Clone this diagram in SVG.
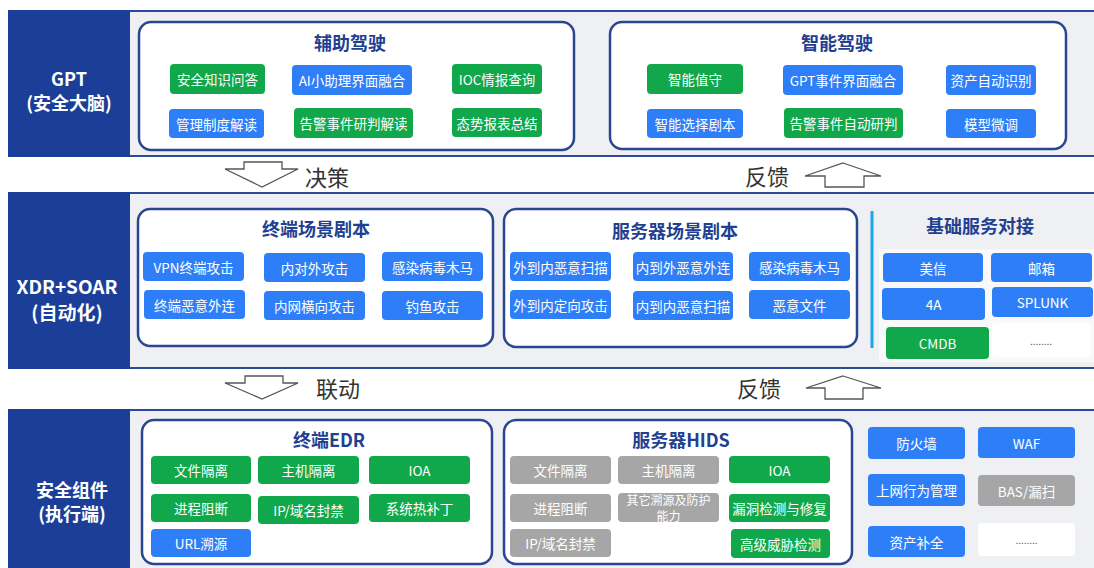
<svg xmlns="http://www.w3.org/2000/svg" width="1094" height="568" viewBox="0 0 1094 568">
<style>
text{font-family:"Noto Sans CJK SC","Noto Sans",sans-serif}
.band{fill:#eff0f3}
.bl{stroke:#2d4a9a;stroke-width:2}
.side{fill:#1b3f98}
.st{font-weight:700;fill:#fff;text-anchor:middle;dominant-baseline:central}
.panel{fill:#fff;stroke:#2b4690;stroke-width:2.5}
.pt{font-weight:700;font-size:18px;fill:#233f8f;text-anchor:middle;dominant-baseline:central}
.g{fill:#10a84b}
.b{fill:#2e7ff7}
.gr{fill:#a6a6a6}
.w{fill:#fff}
.bt{font-size:13.5px;fill:#fff;text-anchor:middle;dominant-baseline:central}
.sm{font-size:12px}
.dt{font-size:10px;fill:#555;text-anchor:middle;dominant-baseline:central}
.arr{fill:#fff;stroke:#555;stroke-width:1.3;stroke-linejoin:miter}
.at{font-size:22px;fill:#333;dominant-baseline:central}
</style>

<!-- bands -->
<g id="band-gpt">
<rect class="band" x="130" y="11" width="964" height="145"/>
<line class="bl" x1="130" y1="11" x2="1094" y2="11"/>
<line class="bl" x1="130" y1="156" x2="1094" y2="156"/>
<rect class="side" x="8" y="10" width="122" height="147"/>
<text class="st" x="69" y="78" font-size="18">GPT</text>
<text class="st" x="69" y="102" font-size="18">(安全大脑)</text>
</g>
<g id="band-xdr">
<rect class="band" x="130" y="193" width="964" height="175"/>
<line class="bl" x1="130" y1="193" x2="1094" y2="193"/>
<line class="bl" x1="130" y1="368" x2="1094" y2="368"/>
<rect class="side" x="8" y="192" width="122" height="177"/>
<text class="st" x="67" y="285" font-size="19">XDR+SOAR</text>
<text class="st" x="67" y="311" font-size="19">(自动化)</text>
</g>
<g id="band-comp">
<rect class="band" x="130" y="410" width="964" height="158"/>
<line class="bl" x1="130" y1="410" x2="1094" y2="410"/>
<rect class="side" x="8" y="409" width="122" height="159"/>
<text class="st" x="72" y="489" font-size="18">安全组件</text>
<text class="st" x="72" y="513" font-size="18">(执行端)</text>
</g>

<!-- GPT panels -->
<g id="p-fuzhu">
<rect class="panel" x="139" y="22" width="435" height="128" rx="12"/>
<text class="pt" x="350" y="42">辅助驾驶</text>
</g>
<g id="n-aqzs"><rect class="g" x="170" y="64" width="95" height="30" rx="4"/><text class="bt" x="217.5" y="79">安全知识问答</text></g>
<g id="n-aixzl"><rect class="b" x="292" y="65" width="120" height="30" rx="4"/><text class="bt" x="352" y="80">AI小助理界面融合</text></g>
<g id="n-ioc"><rect class="g" x="452" y="64" width="90" height="30" rx="4"/><text class="bt" x="497" y="79">IOC情报查询</text></g>
<g id="n-glzd"><rect class="b" x="169" y="109" width="95" height="29" rx="4"/><text class="bt" x="216.5" y="123.5">管理制度解读</text></g>
<g id="n-gjyp"><rect class="g" x="294" y="108" width="119" height="30" rx="4"/><text class="bt" x="353.5" y="123">告警事件研判解读</text></g>
<g id="n-tsbb"><rect class="g" x="452" y="108" width="90" height="29" rx="4"/><text class="bt" x="497" y="122.5">态势报表总结</text></g>

<g id="p-zhineng">
<rect class="panel" x="610" y="22" width="456" height="127" rx="12"/>
<text class="pt" x="837" y="42">智能驾驶</text>
</g>
<g id="n-znzs"><rect class="g" x="647" y="64" width="96" height="30" rx="4"/><text class="bt" x="695" y="79">智能值守</text></g>
<g id="n-gptsj"><rect class="b" x="783" y="65" width="120" height="30" rx="4"/><text class="bt" x="843" y="80">GPT事件界面融合</text></g>
<g id="n-zcsb"><rect class="b" x="946" y="65" width="90" height="30" rx="4"/><text class="bt" x="991" y="80">资产自动识别</text></g>
<g id="n-znxz"><rect class="b" x="647" y="109" width="96" height="29" rx="4"/><text class="bt" x="695" y="123.5">智能选择剧本</text></g>
<g id="n-gjzd"><rect class="g" x="784" y="108" width="119" height="30" rx="4"/><text class="bt" x="843.5" y="123">告警事件自动研判</text></g>
<g id="n-mxwt"><rect class="b" x="946" y="109" width="90" height="29" rx="4"/><text class="bt" x="991" y="123.5">模型微调</text></g>

<!-- XDR panels -->
<g id="p-zdcj">
<rect class="panel" x="138" y="209" width="355" height="137" rx="12"/>
<text class="pt" x="316" y="228">终端场景剧本</text>
</g>
<g id="n-vpn"><rect class="b" x="143" y="252" width="101" height="29" rx="4"/><text class="bt" x="193.5" y="266.5">VPN终端攻击</text></g>
<g id="n-ndw"><rect class="b" x="264" y="253" width="101" height="29" rx="4"/><text class="bt" x="314.5" y="267.5">内对外攻击</text></g>
<g id="n-grbd1"><rect class="b" x="382" y="252" width="101" height="29" rx="4"/><text class="bt" x="432.5" y="266.5">感染病毒木马</text></g>
<g id="n-zdey"><rect class="b" x="144" y="290" width="101" height="29" rx="4"/><text class="bt" x="194.5" y="304.5">终端恶意外连</text></g>
<g id="n-nwhx"><rect class="b" x="264" y="291" width="101" height="29" rx="4"/><text class="bt" x="314.5" y="305.5">内网横向攻击</text></g>
<g id="n-dy"><rect class="b" x="382" y="291" width="101" height="29" rx="4"/><text class="bt" x="432.5" y="305.5">钓鱼攻击</text></g>

<g id="p-fwqcj">
<rect class="panel" x="504" y="209" width="353" height="138" rx="12"/>
<text class="pt" x="675" y="230">服务器场景剧本</text>
</g>
<g id="n-wdnsm"><rect class="b" x="510" y="252" width="101" height="29" rx="4"/><text class="bt" x="560.5" y="266.5">外到内恶意扫描</text></g>
<g id="n-ndwwl"><rect class="b" x="633" y="252" width="100" height="29" rx="4"/><text class="bt" x="683" y="266.5">内到外恶意外连</text></g>
<g id="n-grbd2"><rect class="b" x="749" y="252" width="101" height="29" rx="4"/><text class="bt" x="799.5" y="266.5">感染病毒木马</text></g>
<g id="n-wdndx"><rect class="b" x="510" y="290" width="101" height="29" rx="4"/><text class="bt" x="560.5" y="304.5">外到内定向攻击</text></g>
<g id="n-ndnsm"><rect class="b" x="633" y="291" width="100" height="29" rx="4"/><text class="bt" x="683" y="305.5">内到内恶意扫描</text></g>
<g id="n-eywj"><rect class="b" x="749" y="290" width="101" height="29" rx="4"/><text class="bt" x="799.5" y="304.5">恶意文件</text></g>

<g id="p-jcfw">
<line x1="872" y1="211" x2="872" y2="348" stroke="#1aa9e3" stroke-width="3"/>
<text class="pt" x="980" y="225">基础服务对接</text>
<rect x="879" y="249" width="215" height="113" fill="#fff" opacity="0.6"/>
</g>
<g id="n-mx"><rect class="b" x="883" y="253" width="100" height="29" rx="4"/><text class="bt" x="933" y="267.5">美信</text></g>
<g id="n-yx"><rect class="b" x="991" y="253" width="101" height="29" rx="4"/><text class="bt" x="1041.5" y="267.5">邮箱</text></g>
<g id="n-4a"><rect class="b" x="882" y="288" width="103" height="32" rx="4"/><text class="bt" x="933.5" y="304">4A</text></g>
<g id="n-splunk"><rect class="b" x="992" y="287" width="101" height="30" rx="4"/><text class="bt" x="1042.5" y="302">SPLUNK</text></g>
<g id="n-cmdb"><rect class="g" x="886" y="327" width="103" height="32" rx="4"/><text class="bt" x="937.5" y="343">CMDB</text></g>
<g id="n-more1"><rect class="w" x="992" y="323" width="98" height="34" rx="4"/><text class="dt" x="1041" y="340">........</text></g>

<!-- Component panels -->
<g id="p-edr">
<rect class="panel" x="142" y="420" width="350" height="144" rx="12"/>
<text class="pt" x="329" y="439">终端EDR</text>
</g>
<g id="n-wjgl1"><rect class="g" x="151" y="456" width="100" height="28" rx="4"/><text class="bt" x="201" y="470">文件隔离</text></g>
<g id="n-zjgl1"><rect class="g" x="258" y="456" width="101" height="28" rx="4"/><text class="bt" x="308.5" y="470">主机隔离</text></g>
<g id="n-ioa1"><rect class="g" x="369" y="456" width="101" height="28" rx="4"/><text class="bt" x="419.5" y="470">IOA</text></g>
<g id="n-jczd1"><rect class="g" x="151" y="494" width="100" height="28" rx="4"/><text class="bt" x="201" y="508">进程阻断</text></g>
<g id="n-ipfj1"><rect class="g" x="258" y="496" width="101" height="28" rx="4"/><text class="bt" x="308.5" y="510">IP/域名封禁</text></g>
<g id="n-xtrbd"><rect class="g" x="369" y="494" width="101" height="28" rx="4"/><text class="bt" x="419.5" y="508">系统热补丁</text></g>
<g id="n-url"><rect class="b" x="151" y="529" width="100" height="28" rx="4"/><text class="bt" x="201" y="543">URL溯源</text></g>

<g id="p-hids">
<rect class="panel" x="504" y="420" width="348" height="144" rx="12"/>
<text class="pt" x="681" y="439">服务器HIDS</text>
</g>
<g id="n-wjgl2"><rect class="gr" x="510" y="456" width="101" height="28" rx="4"/><text class="bt" x="560.5" y="470">文件隔离</text></g>
<g id="n-zjgl2"><rect class="gr" x="618" y="456" width="101" height="28" rx="4"/><text class="bt" x="668.5" y="470">主机隔离</text></g>
<g id="n-ioa2"><rect class="g" x="729" y="456" width="101" height="27" rx="4"/><text class="bt" x="779.5" y="469.5">IOA</text></g>
<g id="n-jczd2"><rect class="gr" x="510" y="494" width="101" height="28" rx="4"/><text class="bt" x="560.5" y="508">进程阻断</text></g>
<g id="n-qtsy"><rect class="gr" x="618" y="493" width="101" height="29" rx="4"/><text class="bt sm" x="668.5" y="499.5">其它溯源及防护</text><text class="bt sm" x="668.5" y="515.5">能力</text></g>
<g id="n-ldjc"><rect class="g" x="729" y="494" width="101" height="28" rx="4"/><text class="bt" x="779.5" y="508">漏洞检测与修复</text></g>
<g id="n-ipfj2"><rect class="gr" x="510" y="529" width="101" height="28" rx="4"/><text class="bt" x="560.5" y="543">IP/域名封禁</text></g>
<g id="n-gjwx"><rect class="g" x="731" y="529" width="99" height="29" rx="4"/><text class="bt" x="780.5" y="543.5">高级威胁检测</text></g>

<g id="n-fhq"><rect class="b" x="868" y="427" width="97" height="32" rx="4"/><text class="bt" x="916.5" y="443">防火墙</text></g>
<g id="n-waf"><rect class="b" x="978" y="427" width="97" height="31" rx="4"/><text class="bt" x="1026.5" y="442.5">WAF</text></g>
<g id="n-swxw"><rect class="b" x="868" y="474" width="97" height="32" rx="4"/><text class="bt" x="916.5" y="490">上网行为管理</text></g>
<g id="n-bas"><rect class="gr" x="978" y="475" width="97" height="31" rx="4"/><text class="bt" x="1026.5" y="490.5">BAS/漏扫</text></g>
<g id="n-zcbq"><rect class="b" x="868" y="526" width="97" height="31" rx="4"/><text class="bt" x="916.5" y="541.5">资产补全</text></g>
<g id="n-more2"><rect class="w" x="978" y="523" width="97" height="33" rx="4"/><text class="dt" x="1026.5" y="539.5">........</text></g>

<!-- connectors -->
<g id="connectors">
<polygon class="arr" points="244,162 282,162 282,169 298,169 262,187 225,169 244,169"/>
<text class="at" x="305" y="176">决策</text>
<polygon class="arr" points="843,163 881,176 864,176 864,187 825,187 825,176 805,176"/>
<text class="at" x="745" y="175">反馈</text>
<polygon class="arr" points="245,376 283,376 283,383 298,383 262,399 225,383 245,383"/>
<text class="at" x="316" y="387">联动</text>
<polygon class="arr" points="843,376 881,388 863,388 863,399 825,399 825,388 806,388"/>
<text class="at" x="737" y="387">反馈</text>
</g>
</svg>
